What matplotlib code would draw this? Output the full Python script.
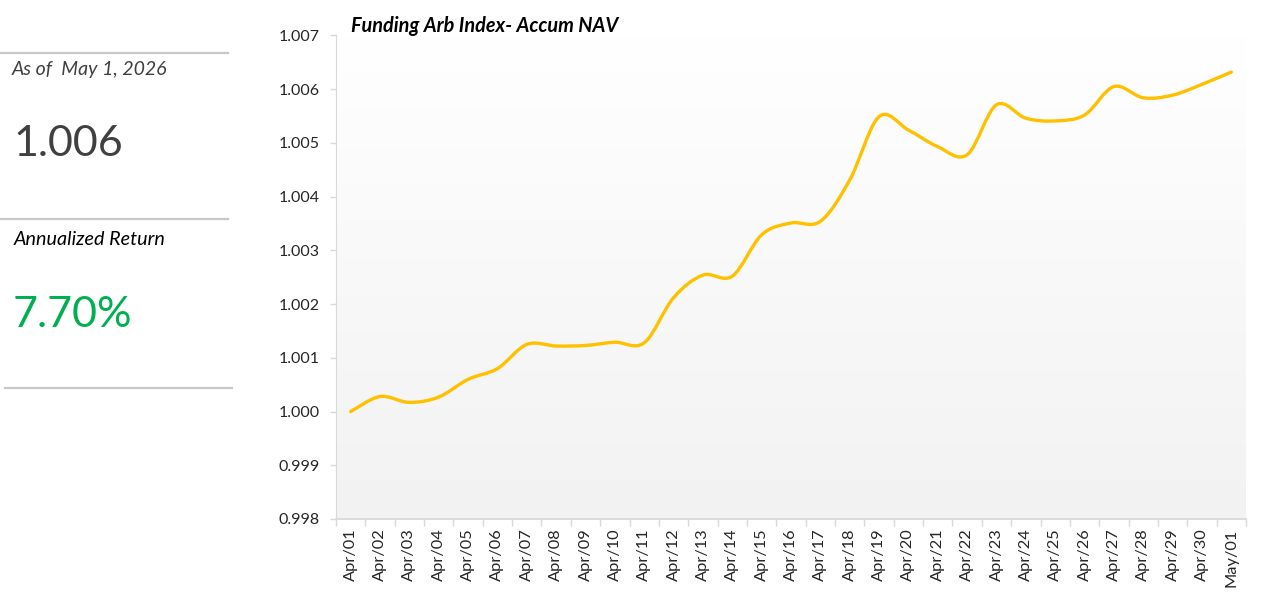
import numpy as np
import matplotlib
matplotlib.use("Agg")
import matplotlib.pyplot as plt
from matplotlib.path import Path
from matplotlib.patches import PathPatch

# ── Data ──────────────────────────────────────────────────────────────────────
dates = [f"Apr/{d:02d}" for d in range(1, 31)] + ["May/01"]
nav = [
    1.00000, 1.00028, 1.00017, 1.00027, 1.00060, 1.00080, 1.00125, 1.00122,
    1.00123, 1.00129, 1.00128, 1.00212, 1.00254, 1.00252, 1.00329, 1.00351,
    1.00354, 1.00431, 1.00549, 1.00524, 1.00493, 1.00478, 1.00571, 1.00546,
    1.00541, 1.00552, 1.00605, 1.00584, 1.00589, 1.00609, 1.00632,
]
y_ticks = [0.998, 0.999, 1.000, 1.001, 1.002, 1.003, 1.004, 1.005, 1.006, 1.007]

as_of = "As of  May 1, 2026"
latest_nav = "1.006"
ann_return = "7.70%"

FONT = ["Lato", "DejaVu Sans"]
plt.rcParams["font.family"] = FONT

GOLD = "#ffc000"
AXIS_GRAY = "#d9d9d9"


def smooth_path(xs, ys):
    """Excel-style smoothed line as cubic Bezier segments."""
    pts = np.column_stack([xs, ys])
    n = len(pts)
    verts = [pts[0]]
    codes = [Path.MOVETO]
    for i in range(n - 1):
        p0 = pts[i - 1] if i > 0 else pts[i]
        p1, p2 = pts[i], pts[i + 1]
        p3 = pts[i + 2] if i + 2 < n else pts[i + 1]
        c1 = p1 + (p2 - p0) / 6.0
        c2 = p2 - (p3 - p1) / 6.0
        verts += [c1, c2, p2]
        codes += [Path.CURVE4] * 3
    return Path(verts, codes)


fig = plt.figure(figsize=(12.8, 6.09), dpi=100)
ax = fig.add_axes([336 / 1280, 90 / 609, 910 / 1280, (573.5 - 90) / 609])

# gradient plot area
grad = np.linspace(1, 0, 256).reshape(-1, 1)
ax.imshow(grad, extent=[0, 1, 0, 1], transform=ax.transAxes, aspect="auto",
          cmap=matplotlib.colors.LinearSegmentedColormap.from_list("g", ["#f2f2f2", "#ffffff"]),
          zorder=0)

x = np.arange(len(dates))
ax.add_patch(PathPatch(smooth_path(x, nav), facecolor="none", edgecolor=GOLD,
                       lw=2.4, capstyle="round", joinstyle="round", zorder=3))

ax.set_xlim(-0.5, len(dates) - 0.5)
ax.set_ylim(0.998, 1.007)
ax.set_yticks(y_ticks)
ax.set_yticklabels([f"{v:.3f}" for v in y_ticks], fontsize=11.5, color="#262626")
ax.set_xticks(x)
ax.set_xticklabels(dates, rotation=90, fontsize=11.8, color="#262626")
ax.set_xticks(np.arange(len(dates) + 1) - 0.5, minor=True)
ax.tick_params(axis="x", which="major", length=0, pad=7)
ax.tick_params(axis="x", which="minor", length=5, color=AXIS_GRAY, width=1)
ax.tick_params(axis="y", length=4, color=AXIS_GRAY, width=1, pad=8)

for side in ("top", "right"):
    ax.spines[side].set_visible(False)
ax.spines["left"].set_color(AXIS_GRAY)
ax.spines["bottom"].set_color(AXIS_GRAY)
ax.spines["bottom"].set_linewidth(1.3)

fig.text(351 / 1280, 1 - 26 / 609, "Funding Arb Index- Accum NAV", fontsize=14.3,
         fontweight="bold", fontstyle="italic", color="black", va="center", ha="left")

# ── Left summary panel ────────────────────────────────────────────────────────
def hline(y_px, x0_px, x1_px):
    fig.add_artist(plt.Line2D([x0_px / 1280, x1_px / 1280], [1 - y_px / 609] * 2,
                              color="#c8c8c8", lw=1.6, transform=fig.transFigure))

hline(53, 0, 228)
hline(219, 0, 228)
hline(388, 5, 232)

fig.text(12 / 1280, 1 - 70 / 609, as_of, fontsize=14, fontstyle="italic",
         color="#404040", va="center", ha="left")
fig.text(13 / 1280, 1 - 144 / 609, latest_nav, fontsize=31, color="#404040",
         va="center", ha="left")
fig.text(14 / 1280, 1 - 239 / 609, "Annualized Return", fontsize=14.2,
         fontstyle="italic", color="black", va="center", ha="left")
fig.text(13 / 1280, 1 - 315 / 609, ann_return, fontsize=31, color="#00b050",
         va="center", ha="left")

fig.savefig("out.png", dpi=100, facecolor="white")
